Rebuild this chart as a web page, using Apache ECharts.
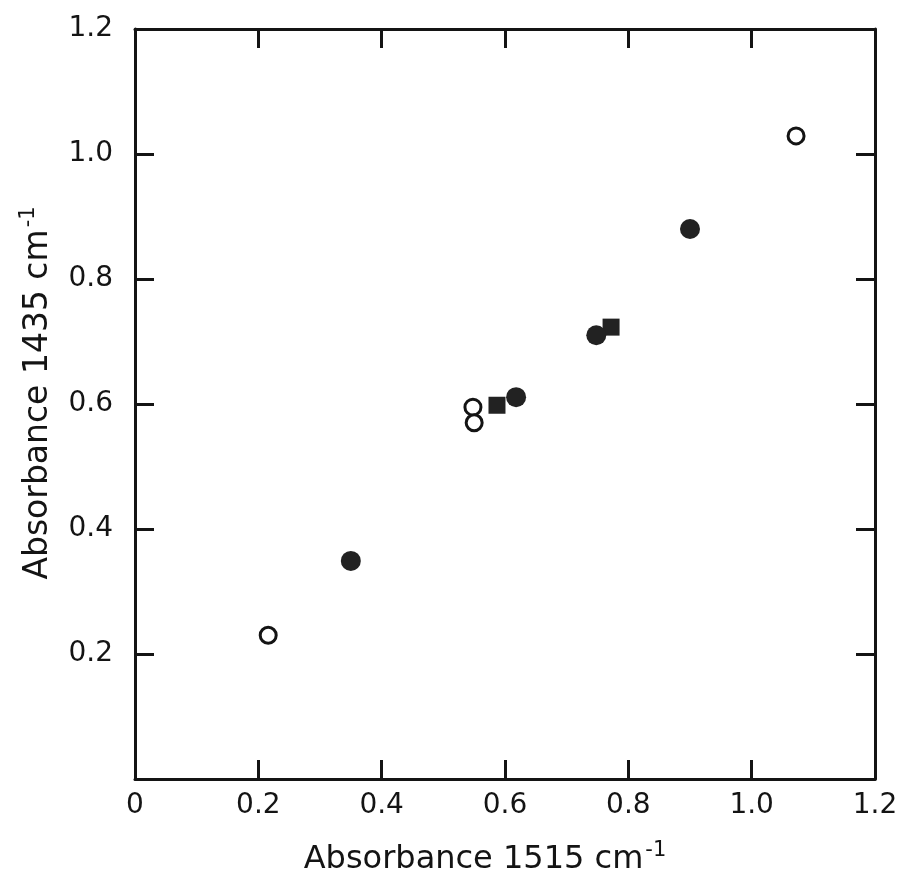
<!DOCTYPE html>
<html>
<head>
<meta charset="utf-8">
<script src="https://cdn.jsdelivr.net/npm/echarts@6/dist/echarts.min.js"></script>
<style>
html,body{margin:0;padding:0;background:#fff;}
#chart{width:908px;height:881px;}
</style>
</head>
<body>
<div id="chart"></div>
<script>
const xTicks = [0, 0.2, 0.4, 0.6, 0.8, 1.0, 1.2];
const yTicks = [0.2, 0.4, 0.6, 0.8, 1.0, 1.2];
const openCircleX = [0.216, 0.548, 0.550, 1.072];
const openCircleY = [0.230, 0.595, 0.570, 1.029];
const filledCircleX = [0.350, 0.618, 0.748, 0.900];
const filledCircleY = [0.349, 0.611, 0.710, 0.880];
const filledSquareX = [0.587, 0.772];
const filledSquareY = [0.598, 0.723];

const INK = '#141414';
const FONT = '"DejaVu Sans", sans-serif';

function pairs(xs, ys){ return xs.map((x,i)=>[x, ys[i]]); }
function fmtX(v){ if (Math.abs(v) < 1e-9) return '0'; return v.toFixed(1); }
function fmtY(v){ if (Math.abs(v) < 1e-9) return ''; return v.toFixed(1); }

const axisLine = {show:true, onZero:false, lineStyle:{color:INK, width:3}};
const axisTick = {show:true, inside:true, length:19, lineStyle:{color:INK, width:3}};

const chart = echarts.init(document.getElementById('chart'), null, {renderer:'canvas'});
chart.setOption({
  backgroundColor:'#fff',
  animation:false,
  grid:{left:135, right:33, top:29, bottom:102, containLabel:false},
  xAxis:[
    {type:'value', position:'bottom', min:0, max:1.2, interval:0.2,
     axisLine:axisLine, axisTick:axisTick, splitLine:{show:false},
     axisLabel:{show:true, margin:13, fontSize:28, color:INK, fontFamily:FONT,
       formatter:v=>fmtX(v)},
     name:'Absorbance 1515 cm{sup|-1}', nameLocation:'middle', nameGap:61,
     nameTextStyle:{fontSize:32, color:INK, fontFamily:FONT, padding:[0,40,0,0],
       rich:{sup:{fontSize:21, color:INK, fontFamily:FONT, padding:[0,0,19,2]}}}},
    {type:'value', position:'top', min:0, max:1.2, interval:0.2,
     axisLine:axisLine, axisTick:axisTick, splitLine:{show:false},
     axisLabel:{show:false}}
  ],
  yAxis:[
    {type:'value', position:'left', min:0, max:1.2, interval:0.2,
     axisLine:axisLine, axisTick:axisTick, splitLine:{show:false},
     axisLabel:{show:true, margin:22, fontSize:28, color:INK, fontFamily:FONT,
       formatter:v=>fmtY(v)},
     name:'Absorbance 1435 cm{sup|-1}', nameLocation:'middle', nameGap:77,
     nameTextStyle:{fontSize:33, color:INK, fontFamily:FONT, padding:[0,0,0,22],
       rich:{sup:{fontSize:21, color:INK, fontFamily:FONT, padding:[0,0,19,2]}}}},
    {type:'value', position:'right', min:0, max:1.2, interval:0.2,
     axisLine:axisLine, axisTick:axisTick, splitLine:{show:false},
     axisLabel:{show:false}}
  ],
  series:[
    {type:'scatter', name:'open', data:pairs(openCircleX, openCircleY),
     symbol:'circle', symbolSize:16,
     itemStyle:{color:'#fff', borderColor:INK, borderWidth:3, opacity:1}},
    {type:'scatter', name:'square', data:pairs(filledSquareX, filledSquareY),
     symbol:'rect', symbolSize:17,
     itemStyle:{color:'#222', opacity:1}},
    {type:'scatter', name:'filled', data:pairs(filledCircleX, filledCircleY),
     symbol:'circle', symbolSize:20,
     itemStyle:{color:'#222', opacity:1}}
  ]
});
</script>
</body>
</html>
